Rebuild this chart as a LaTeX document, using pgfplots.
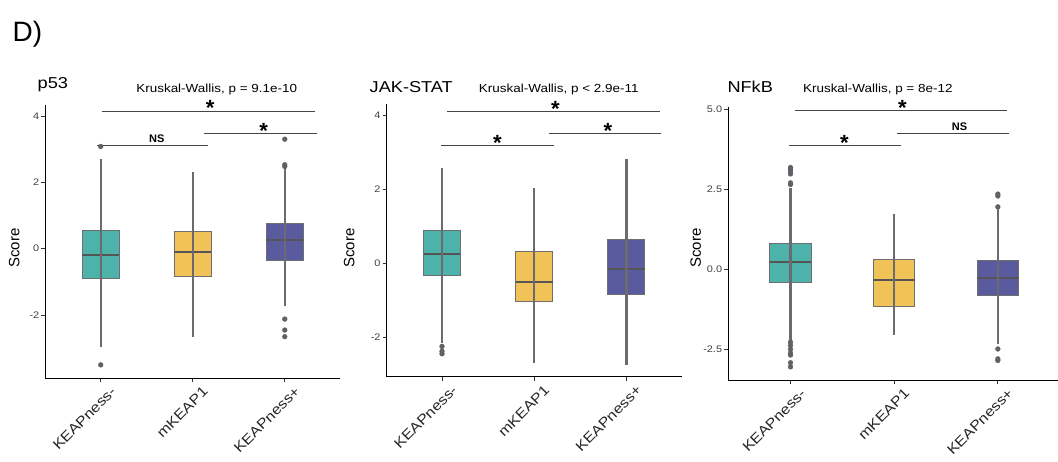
\documentclass[border=0pt]{standalone}
\usepackage{fontspec}
\setmainfont{Liberation Sans}
\newfontfamily\hfont{Liberation Sans}[FakeStretch=1.15]
\usepackage{pgfplots}
\pgfplotsset{compat=1.18}
\usepgfplotslibrary{statistics}
\definecolor{cteal}{HTML}{4DB3AA}
\definecolor{cyel}{HTML}{F0C258}
\definecolor{cpur}{HTML}{5A5A9E}
\definecolor{bgray}{HTML}{6E6E6E}
\definecolor{mgray}{HTML}{555555}
\definecolor{colgray}{HTML}{6C6970}
\definecolor{ogray}{HTML}{606066}
\definecolor{sgray}{HTML}{444444}
\tikzset{
  sigstar/.style={font=\fontsize{22}{22}\bfseries\selectfont, anchor=base, inner sep=0pt, yshift=-5pt},
  signs/.style={font=\fontsize{11}{12}\bfseries\selectfont, anchor=base, inner sep=0pt, yshift=3pt},
  ttl/.style={anchor=base west, inner sep=0pt, font=\hfont\fontsize{15.8}{18}\selectfont},
  kw/.style={anchor=base, inner sep=0pt, font=\hfont\fontsize{11.7}{14}\selectfont},
  scr/.style={rotate=90, font=\fontsize{15}{16}\selectfont},
}
\pgfplotsset{
  panel/.style={
    scale only axis, anchor=south west, clip=false,
    xmin=0.4, xmax=3.6,
    axis lines*=left,
    axis line style={line width=0.9pt, black},
    xtick={1,2,3}, xticklabels={KEAPness-,mKEAP1,KEAPness+},
    tick align=outside, major tick length=4pt,
    every tick/.style={line width=0.8pt, black!80},
    xticklabel style={rotate=45, anchor=north east, font=\hfont\fontsize{14}{15}\selectfont, inner sep=1pt, text=black!85, xshift=5pt, yshift=-8pt},
    yticklabel style={font=\hfont\fontsize{9.5}{12}\selectfont, text=black!75, inner sep=2pt},
    boxplot/draw direction=y,
    boxplot/box extend=0.4,
    boxplot/whisker extend=0,
    boxplot/every median/.style={draw=mgray, line width=2pt},
    boxplot/every box/.style={draw=bgray, line width=1pt},
    boxplot/every whisker/.style={draw=colgray, line width=2.4pt},
  },
  col/.style={draw=colgray, line width=2.4pt},
  outl/.style={only marks, mark=*, mark size=2.4pt, mark options={draw=ogray, fill=ogray}},
  sig/.style={draw=sgray, line width=0.9pt},
}
\begin{document}
\begin{tikzpicture}[x=1pt,y=1pt]
\path[use as bounding box] (0,0) rectangle (1058,461);
\node[anchor=base west, inner sep=0pt, font=\fontsize{28}{30}\selectfont] at (12.5,419.3) {D)};
% ---------------- p53
\node[ttl] at (37.5,372.5) {p53};
\node[kw] at (216.7,368.7) {Kruskal-Wallis, p = 9.1e-10};
\node[scr] at (14.2,213) {Score};
\begin{axis}[panel, at={(45.5pt,83pt)}, width=294.5pt, height=273pt,
  ymin=-3.895, ymax=4.33, ytick={-2,0,2,4}, yticklabels={-2,0,2,4}]
\addplot[boxplot prepared={lower whisker=-2.95, lower quartile=-0.90, median=-0.18, upper quartile=0.54, upper whisker=2.69, draw position=1}, fill=cteal, draw=bgray] coordinates {};
\addplot[boxplot prepared={lower whisker=-2.65, lower quartile=-0.83, median=-0.10, upper quartile=0.52, upper whisker=2.30, draw position=2}, fill=cyel, draw=bgray] coordinates {};
\addplot[boxplot prepared={lower whisker=-1.72, lower quartile=-0.34, median=0.25, upper quartile=0.76, upper whisker=2.40, draw position=3}, fill=cpur, draw=bgray] coordinates {};
\addplot[col] coordinates {(1,-2.95) (1,2.69)};
\addplot[col] coordinates {(2,-2.65) (2,2.30)};
\addplot[col] coordinates {(3,-1.72) (3,2.45)};
\addplot[outl] coordinates {(1,3.08) (1,-3.50) (3,2.48) (3,2.53) (3,3.30) (3,-2.12) (3,-2.45) (3,-2.65)};
\addplot[sig] coordinates {(1.01,4.15) (3.33,4.15)};
\addplot[sig] coordinates {(0.96,3.12) (2.17,3.12)};
\addplot[sig] coordinates {(2.12,3.48) (3.35,3.48)};
\node[sigstar] at (axis cs:2.19,4.15) {*};
\node[signs] at (axis cs:1.61,3.12) {NS};
\node[sigstar] at (axis cs:2.77,3.48) {*};
\end{axis}
% ---------------- JAK-STAT
\node[ttl] at (369.5,368.3) {JAK-STAT};
\node[kw] at (558.8,368.7) {Kruskal-Wallis, p < 2.9e-11};
\node[scr] at (349.2,213) {Score};
\begin{axis}[panel, at={(386.7pt,84.3pt)}, width=295pt, height=273.2pt,
  ymin=-3.07, ymax=4.33, ytick={-2,0,2,4}, yticklabels={-2,0,2,4}]
\addplot[boxplot prepared={lower whisker=-2.17, lower quartile=-0.34, median=0.26, upper quartile=0.89, upper whisker=2.57, draw position=1}, fill=cteal, draw=bgray] coordinates {};
\addplot[boxplot prepared={lower whisker=-2.71, lower quartile=-1.04, median=-0.50, upper quartile=0.33, upper whisker=2.03, draw position=2}, fill=cyel, draw=bgray] coordinates {};
\addplot[boxplot prepared={lower whisker=-2.75, lower quartile=-0.83, median=-0.14, upper quartile=0.65, upper whisker=2.82, draw position=3}, fill=cpur, draw=bgray] coordinates {};
\addplot[col] coordinates {(1,-2.17) (1,2.57)};
\addplot[col] coordinates {(2,-2.71) (2,2.03)};
\addplot[col] coordinates {(3,-2.75) (3,2.82)};
\addplot[outl] coordinates {(1,-2.25) (1,-2.38) (1,-2.45)};
\addplot[sig] coordinates {(1.05,4.12) (3.36,4.12)};
\addplot[sig] coordinates {(0.99,3.19) (2.21,3.19)};
\addplot[sig] coordinates {(2.16,3.52) (3.38,3.52)};
\node[sigstar] at (axis cs:2.23,4.12) {*};
\node[sigstar] at (axis cs:1.60,3.19) {*};
\node[sigstar] at (axis cs:2.80,3.52) {*};
\end{axis}
% ---------------- NFkB
\node[ttl] at (727.3,368.3) {NFkB};
\node[kw] at (877.8,368.7) {Kruskal-Wallis, p = 8e-12};
\node[scr] at (695.8,213) {Score};
\begin{axis}[panel, at={(728.3pt,81pt)}, width=329.7pt, height=273.3pt, xmax=3.58,
  ymin=-3.46, ymax=5.08, ytick={-2.5,0,2.5,5}, yticklabels={-2.5,0.0,2.5,5.0}]
\addplot[boxplot prepared={lower whisker=-2.20, lower quartile=-0.41, median=0.22, upper quartile=0.80, upper whisker=2.55, draw position=1}, fill=cteal, draw=bgray] coordinates {};
\addplot[boxplot prepared={lower whisker=-2.05, lower quartile=-1.17, median=-0.33, upper quartile=0.29, upper whisker=1.73, draw position=2}, fill=cyel, draw=bgray] coordinates {};
\addplot[boxplot prepared={lower whisker=-2.35, lower quartile=-0.83, median=-0.26, upper quartile=0.27, upper whisker=1.88, draw position=3}, fill=cpur, draw=bgray] coordinates {};
\addplot[col] coordinates {(1,-2.20) (1,2.55)};
\addplot[col] coordinates {(2,-2.05) (2,1.73)};
\addplot[col] coordinates {(3,-2.35) (3,1.88)};
\addplot[outl] coordinates {(1,2.65) (1,2.70) (1,2.98) (1,3.05) (1,3.12) (1,3.18) (1,-2.28) (1,-2.38) (1,-2.50) (1,-2.62) (1,-2.68) (1,-2.92) (1,-3.05) (3,1.95) (3,2.29) (3,2.35) (3,-2.49) (3,-2.80) (3,-2.85)};
\addplot[sig] coordinates {(1.04,4.95) (3.09,4.95)};
\addplot[sig] coordinates {(0.99,3.86) (2.07,3.86)};
\addplot[sig] coordinates {(2.03,4.24) (3.11,4.24)};
\node[sigstar] at (axis cs:2.08,4.95) {*};
\node[sigstar] at (axis cs:1.52,3.86) {*};
\node[signs] at (axis cs:2.63,4.24) {NS};
\end{axis}
\end{tikzpicture}
\end{document}
